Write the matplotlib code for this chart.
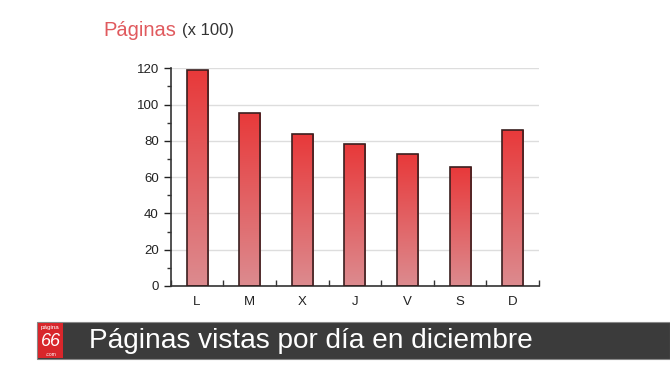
import matplotlib
matplotlib.use("Agg")
import matplotlib.pyplot as plt
import numpy as np
from matplotlib.colors import LinearSegmentedColormap
from matplotlib.patches import Rectangle
from matplotlib.ticker import MultipleLocator, FixedLocator

plt.rcParams['font.family'] = ['Liberation Sans', 'DejaVu Sans']

days = ["L", "M", "X", "J", "V", "S", "D"]
pages = [119, 95.5, 83.5, 78, 72.7, 65.4, 86]
yticks = [0, 20, 40, 60, 80, 100, 120]
title_main = "Páginas"
title_unit = "(x 100)"
banner_text = "Páginas vistas por día en diciembre"

fig = plt.figure(figsize=(6.7, 3.77), dpi=100)
fig.patch.set_facecolor("white")

ax = fig.add_axes([0.2548, 0.2414, 0.5497, 0.5775])
x = np.arange(len(days))
bars = ax.bar(x, pages, width=0.4, color="none", edgecolor="#3a1f1f", linewidth=1.2, zorder=3)

cmap = LinearSegmentedColormap.from_list("g", ["#dc8b8f", "#e8393a"])
grad = np.linspace(0, 1, 256).reshape(-1, 1)
for b in bars:
    x0, w, h = b.get_x(), b.get_width(), b.get_height()
    im = ax.imshow(grad, cmap=cmap, origin="lower", aspect="auto",
                   extent=[x0, x0 + w, 0, h], zorder=2)
    im.set_clip_path(b)

ax.set_xlim(-0.5, len(days) - 0.5)
ax.set_ylim(0, 120)
ax.set_xticks(x)
ax.set_xticklabels(days)
ax.tick_params(axis="x", which="major", length=0, labelsize=9.5, pad=7, colors="#222222")
ax.xaxis.set_minor_locator(FixedLocator(np.arange(-0.5, len(days), 1.0)))
ax.tick_params(axis="x", which="minor", direction="in", length=4, width=1, color="#333333")

ax.set_yticks(yticks)
ax.yaxis.set_minor_locator(MultipleLocator(10))
ax.tick_params(axis="y", which="major", direction="out", length=5, width=1, labelsize=9.5, colors="#222222")
ax.tick_params(axis="y", which="minor", direction="out", length=3, width=1, color="#333333")

ax.grid(axis="y", color="#dddddd", linewidth=1, zorder=0)
ax.set_axisbelow(True)
for s in ["top", "right"]:
    ax.spines[s].set_visible(False)
for s in ["left", "bottom"]:
    ax.spines[s].set_color("#333333")
    ax.spines[s].set_linewidth(1.2)

# title above chart
t1 = fig.text(103 / 670, 1 - 30 / 377, title_main, color="#e05a5e", fontsize=14.5, va="center", ha="left")
fig.canvas.draw()
bb = t1.get_window_extent()
fig.text(bb.x1 / 670 + 0.009, 1 - 31 / 377, title_unit, color="#333333", fontsize=12, va="center", ha="left")

# banner
fig.patches.append(Rectangle((37 / 670, 1 - 359 / 377), 1 - 37 / 670, 37 / 377,
                             transform=fig.transFigure, facecolor="#3b3b3b",
                             edgecolor="#888888", linewidth=0.8, zorder=1))
fig.patches.append(Rectangle((38 / 670, 1 - 358 / 377), 25 / 670, 35 / 377,
                             transform=fig.transFigure, facecolor="#d8262b",
                             edgecolor="none", zorder=2))
fig.text(50.5 / 670, 1 - 327 / 377, "página", color="white", fontsize=4.5, ha="center", va="center", zorder=3)
fig.text(50.5 / 670, 1 - 341 / 377, "66", color="white", fontsize=13, style="italic", ha="center", va="center", zorder=3)
fig.text(51 / 670, 1 - 354 / 377, ".com", color="white", fontsize=3.5, ha="center", va="center", zorder=3)
fig.text(89 / 670, 1 - 341 / 377, banner_text, color="white", fontsize=20.2, ha="left", va="center", zorder=3)

fig.savefig("out.png", dpi=100, facecolor="white")
